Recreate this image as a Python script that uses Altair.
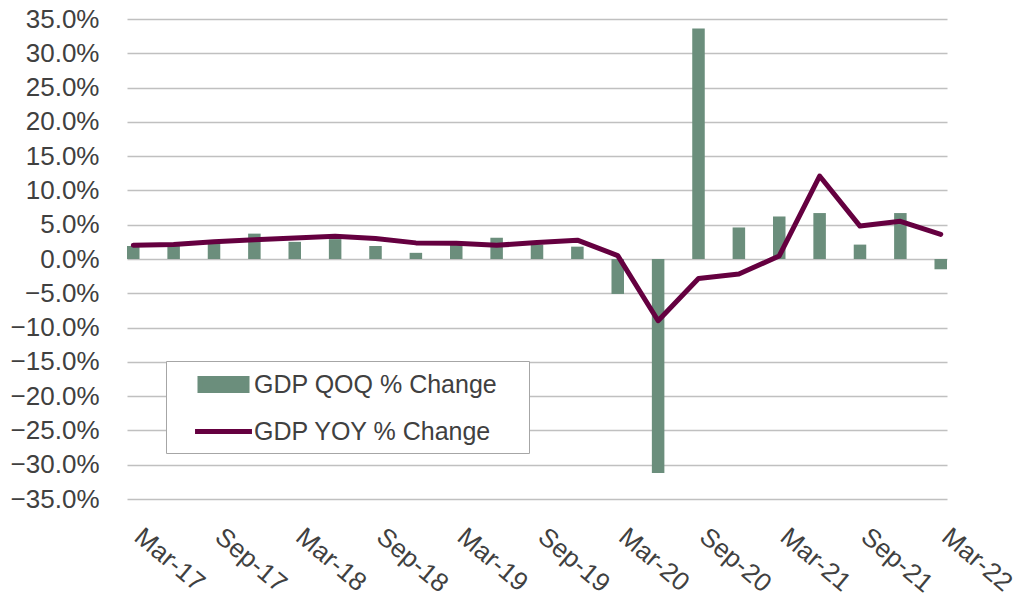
import altair as alt
import pandas as pd

quarters = ["Mar-17", "Jun-17", "Sep-17", "Dec-17", "Mar-18", "Jun-18", "Sep-18", "Dec-18",
            "Mar-19", "Jun-19", "Sep-19", "Dec-19", "Mar-20", "Jun-20", "Sep-20", "Dec-20",
            "Mar-21", "Jun-21", "Sep-21", "Dec-21", "Mar-22"]
qoq = [1.9, 2.0, 2.3, 3.7, 2.5, 2.9, 1.9, 0.9, 2.1, 3.1, 2.1, 1.8, -5.1, -31.2, 33.6, 4.6,
       6.2, 6.7, 2.1, 6.7, -1.5]
yoy = [2.0, 2.1, 2.5, 2.8, 3.05, 3.3, 3.0, 2.35, 2.3, 2.0, 2.4, 2.75, 0.5, -9.0, -2.85, -2.2,
       0.45, 12.1, 4.8, 5.5, 3.6]
axis_labels = quarters[::2]
y_ticks = list(range(-35, 40, 5))
series_names = ["GDP QOQ % Change", "GDP YOY % Change"]
series_colors = ["#6b8e7c", "#650040"]

df = pd.DataFrame({
    "quarter": quarters + quarters,
    "value": qoq + yoy,
    "series": [series_names[0]] * len(quarters) + [series_names[1]] * len(quarters),
})

FONT = "Liberation Sans"
TXT = "#404040"

x_enc = alt.X(
    "quarter:O", sort=quarters,
    scale=alt.Scale(paddingInner=0.69, paddingOuter=0),
    axis=alt.Axis(values=axis_labels, title=None, labelAngle=40, labelAlign="left",
                  labelBaseline="top", labelPadding=24, labelOffset=13, ticks=False,
                  domain=False, grid=False, labelFontSize=26, labelColor=TXT, labelFont=FONT,
                  labelOverlap=False),
)
y_enc = alt.Y(
    "value:Q", stack=None,
    scale=alt.Scale(domain=[-35, 35], nice=False, zero=False),
    axis=alt.Axis(values=y_ticks, labelExpr="format(datum.value, '.1f') + '%'", title=None,
                  domain=False, ticks=False, labelPadding=28, gridColor="#c0c0c0", gridWidth=1.3,
                  labelFontSize=26, labelColor=TXT, labelFont=FONT),
)

is_qoq = "datum.value == '" + series_names[0] + "'"
legend = alt.Legend(
    title=".", titleOrient="right", titleOpacity=0, titleFontSize=10, titlePadding=21,
    orient="none", legendX=39, legendY=342, direction="vertical",
    padding=8, fillColor="white", strokeColor="#a6a6a6",
    symbolSize=676, symbolOffset=34, labelOffset=15, rowPadding=15,
    labelFontSize=25, labelFont=FONT, labelColor=TXT, labelLimit=500,
    symbolType={"expr": is_qoq + " ? 'M-1.808,-0.4615H1.808V0.4615H-1.808Z' : 'M-2.19,0H2.19'"},
    symbolFillColor={"expr": is_qoq + " ? '" + series_colors[0] + "' : 'transparent'"},
    symbolStrokeColor={"expr": is_qoq + " ? '" + series_colors[0] + "' : '" + series_colors[1] + "'"},
    symbolStrokeWidth=5,
    symbolOpacity=1,
)
color_enc = alt.Color("series:N", scale=alt.Scale(domain=series_names, range=series_colors),
                      legend=legend)

bars = alt.Chart(df).transform_filter(
    alt.datum.series == series_names[0]
).mark_bar().encode(x=x_enc, y=y_enc, color=color_enc)

line = alt.Chart(df).transform_filter(
    alt.datum.series == series_names[1]
).mark_line(strokeWidth=5, strokeCap="round", strokeJoin="round").encode(
    x=x_enc, y=y_enc, color=color_enc)

chart = alt.layer(bars, line).properties(
    width=820, height=480,
    autosize=alt.AutoSizeParams(type="none"),
    padding={"left": 119, "top": 11, "right": 75, "bottom": 100},
).configure_view(stroke=None)

chart.save("out.html", embed_options={"renderer": "svg", "actions": False})
